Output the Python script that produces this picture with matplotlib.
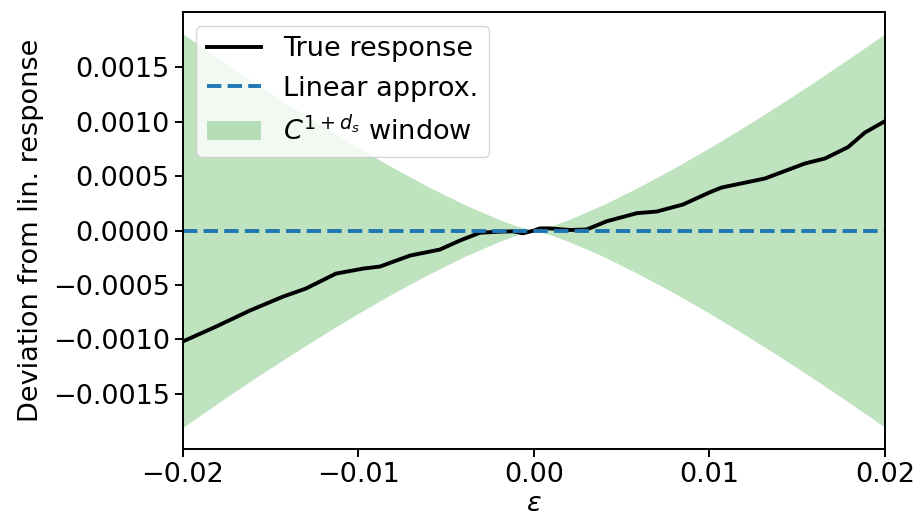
import numpy as np
import matplotlib
matplotlib.use("Agg")
import matplotlib.pyplot as plt

# window edge (upper edge, symmetric about zero)
eps_band = [-0.02, -0.018, -0.016, -0.014, -0.012, -0.01, -0.008, -0.006, -0.004, -0.002, -0.001, 0.0,
            0.001, 0.002, 0.004, 0.006, 0.008, 0.01, 0.012, 0.014, 0.016, 0.018, 0.02]
band_up = [0.00181, 0.001587, 0.001369, 0.001159, 0.000956, 0.000761, 0.000576, 0.000402, 0.000242,
           0.000102, 0.0000428, 0.0,
           0.0000428, 0.000102, 0.000242, 0.000402, 0.000576, 0.000761, 0.000956, 0.001159, 0.001369,
           0.001587, 0.00181]

# true response
eps_true = [-0.02, -0.01812, -0.0162, -0.0143, -0.0130, -0.01128, -0.00974, -0.00877, -0.00706,
            -0.00536, -0.00422, -0.00308, -0.00194, -0.0012, -0.00063, 0.0, 0.00034, 0.0009, 0.00205,
            0.003, 0.00416, 0.00587, 0.007, 0.0085, 0.01003, 0.0107, 0.01316, 0.01544, 0.01658,
            0.01789, 0.01886, 0.02]
dev_true = [-0.00102, -0.000884, -0.000737, -0.000608, -0.000534, -0.000396, -0.00035, -0.000331,
            -0.00023, -0.000175, -0.000092, -0.00002, -0.00001, -0.000007, -0.000025, 0.0, 0.00002,
            0.00002, 0.000005, 0.00001, 0.000086, 0.00016, 0.000175, 0.00024, 0.000353, 0.000396,
            0.000479, 0.000617, 0.000663, 0.000767, 0.000902, 0.001006]

plt.rcParams['font.size'] = 19.5
plt.rcParams['xtick.major.size'] = 6
plt.rcParams['ytick.major.size'] = 6
plt.rcParams['xtick.major.width'] = 1.4
plt.rcParams['ytick.major.width'] = 1.4
plt.rcParams['axes.linewidth'] = 1.4

fig = plt.figure(figsize=(9.19, 5.24), dpi=100)
ax = fig.add_axes([0.199, 0.143, 0.764, 0.834])

band_up = np.array(band_up)
ax.fill_between(eps_band, -band_up, band_up, color='tab:green', alpha=0.3, linewidth=0,
                label=r'$C^{1+d_s}$ window')
ax.plot(eps_true, dev_true, color='black', lw=2.8, label='True response')
ax.plot([-0.02, 0.02], [0, 0], color='tab:blue', lw=2.8, ls='--', label='Linear approx.')

ax.set_xlim(-0.02, 0.02)
ax.set_ylim(-0.00201, 0.00201)
ax.set_xticks([-0.02, -0.01, 0.0, 0.01, 0.02])
ax.set_xticklabels(['\u22120.02', '\u22120.01', '0.00', '0.01', '0.02'])
ax.set_yticks([-0.0015, -0.001, -0.0005, 0, 0.0005, 0.001, 0.0015])
ax.set_yticklabels(['\u22120.0015', '\u22120.0010', '\u22120.0005', '0.0000', '0.0005', '0.0010', '0.0015'])
ax.set_xlabel(r'$\varepsilon$', labelpad=2)
ax.set_ylabel('Deviation from lin. response', labelpad=6)

h, l = ax.get_legend_handles_labels()
order = [1, 2, 0]
ax.legend([h[i] for i in order], [l[i] for i in order], loc='upper left')

plt.savefig('out.png', dpi=100)
